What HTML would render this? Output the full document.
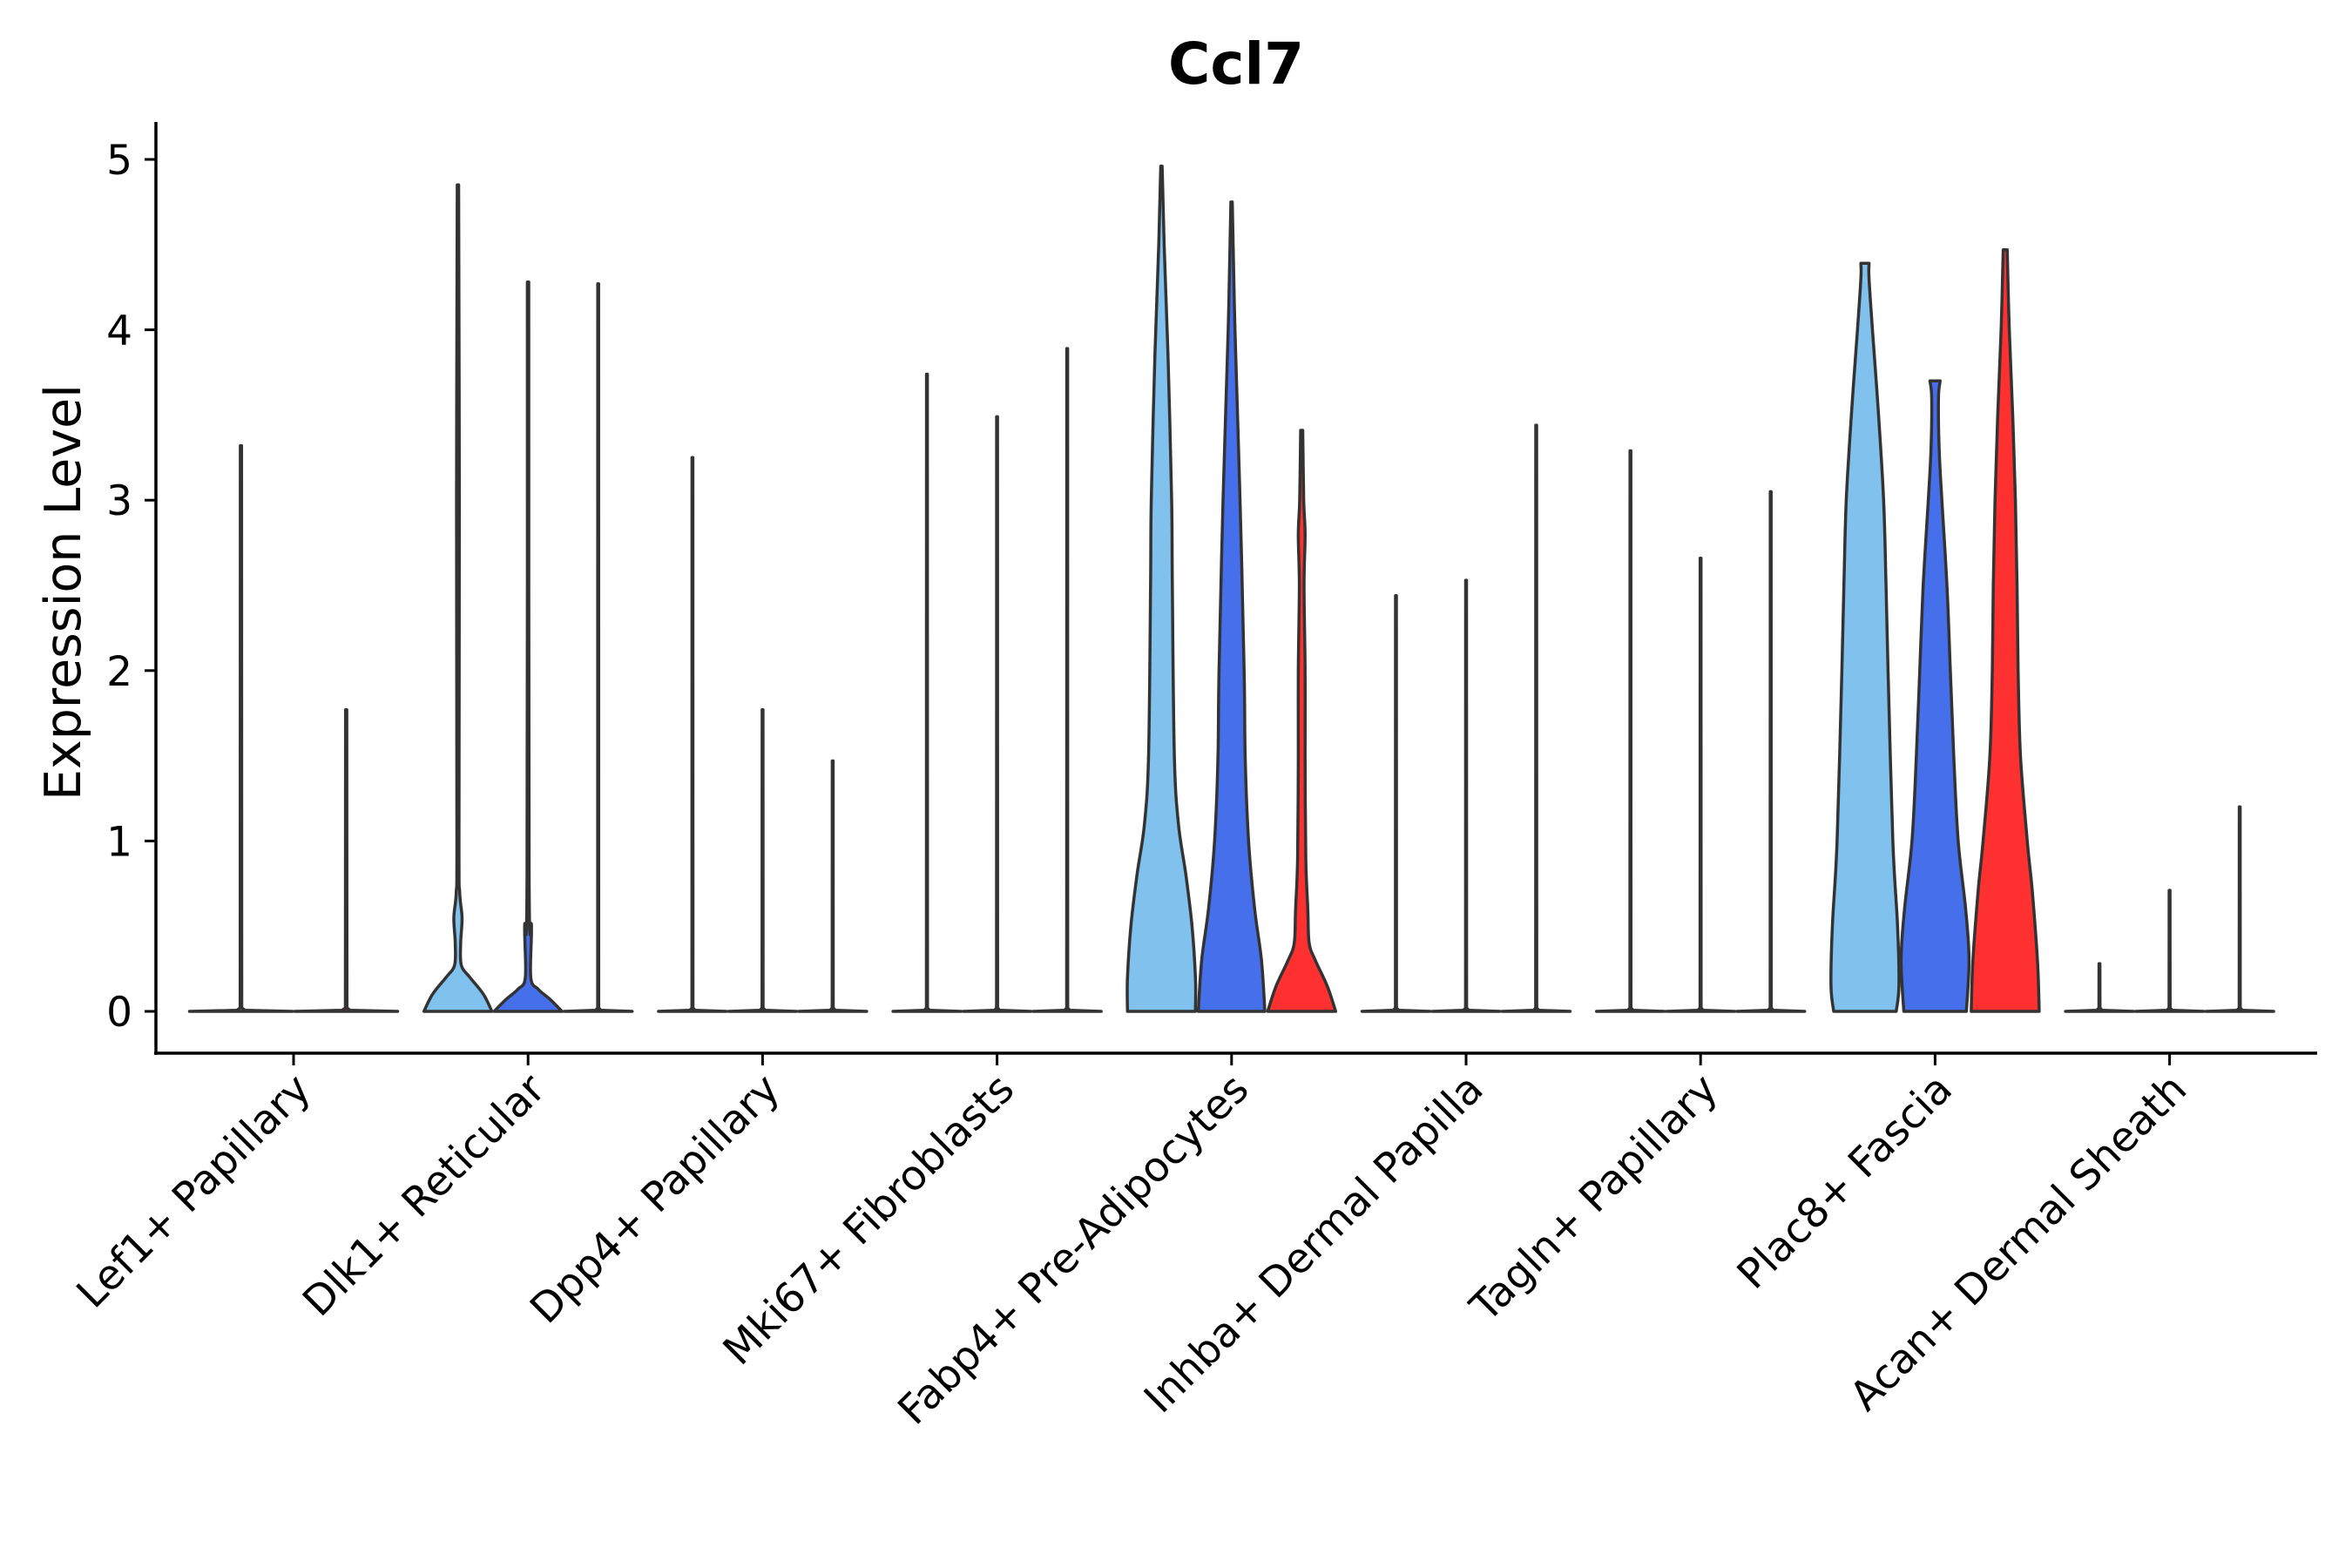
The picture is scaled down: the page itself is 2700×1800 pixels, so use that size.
<!DOCTYPE html>
<html><head><meta charset="utf-8"><style>
html,body{margin:0;padding:0;background:#fff;}
svg{display:block;font-family:"DejaVu Sans","Liberation Sans",sans-serif;}
</style></head><body>
<svg id="chart" width="2700" height="1800" viewBox="0 0 2700 1800">
<text x="1419" y="96" text-anchor="middle" font-size="66" font-weight="bold" fill="#000">Ccl7</text>
<text transform="translate(92,680) rotate(-90)" text-anchor="middle" font-size="57" fill="#000">Expression Level</text>
<g id="axes"></g>
<g id="violins"></g>
</svg>
<script>
const categories = ["Lef1+ Papillary","Dlk1+ Reticular","Dpp4+ Papillary","Mki67+ Fibroblasts","Fabp4+ Pre-Adipocytes","Inhba+ Dermal Papilla","Tagln+ Papillary","Plac8+ Fascia","Acan+ Dermal Sheath"];
const yTicks = [0,1,2,3,4,5];
const seriesColors = ["#80C1EE","#4670EB","#FF3030"];
// null = series absent in that group
const maxLight = [3.32,4.85,3.25,3.74,4.96,2.44,3.29,4.39,0.28];
const maxBlue  = [null,4.28,1.77,3.49,4.75,2.53,2.66,3.70,0.71];
const maxRed   = [1.77,4.27,1.47,3.89,3.41,3.44,3.05,4.47,1.20];
// density profiles [value, relative half-width] for filled violins
const dlkLight = [[0,1],[0.1,0.75],[0.2,0.35],[0.27,0.1],[0.4,0.08],[0.55,0.12],[0.7,0.05],[1,0.03],[3,0.04],[4.85,0.02]];
const dlkBlue  = [[0,1],[0.07,0.65],[0.13,0.3],[0.2,0.08],[0.5,0.1],[0.8,0.03],[4.28,0.02]];
const fabLight = [[0,1],[0.2,1],[0.5,0.9],[0.8,0.72],[1.1,0.5],[1.5,0.38],[2.5,0.32],[3,0.3],[3.8,0.2],[4.5,0.08],[4.96,0.02]];
const fabBlue  = [[0,0.98],[0.3,0.88],[0.6,0.68],[1,0.5],[1.5,0.4],[2,0.37],[3,0.25],[4,0.1],[4.75,0.02]];
const fabRed   = [[0,1],[0.15,0.75],[0.3,0.4],[0.4,0.22],[0.6,0.18],[0.9,0.12],[1.5,0.1],[2,0.1],[2.5,0.07],[2.8,0.1],[3,0.06],[3.41,0.03]];
const plaLight = [[0,0.92],[0.15,1],[0.5,0.96],[1,0.82],[2,0.68],[2.5,0.62],[3,0.55],[3.5,0.4],[4,0.22],[4.3,0.12],[4.39,0.12]];
const plaBlue  = [[0,0.92],[0.3,1],[0.6,0.9],[1,0.68],[1.5,0.55],[2,0.45],[2.5,0.35],[3,0.2],[3.3,0.12],[3.6,0.1],[3.7,0.15]];
const plaRed   = [[0,1],[0.3,0.95],[0.7,0.8],[1,0.65],[1.5,0.45],[2,0.38],[2.5,0.35],[3,0.3],[3.5,0.22],[4,0.12],[4.47,0.06]];

const NS="http://www.w3.org/2000/svg";
const X0=179, X1=2660, Y0=1161, UNIT=195.6, AXY=1209, C0=337, STEP=269.2, HW=39;
const yScale=v=>Y0-v*UNIT;
const xScale=i=>C0+i*STEP;
function mk(tag,attrs,parent){const e=document.createElementNS(NS,tag);for(const k in attrs)e.setAttribute(k,attrs[k]);parent.appendChild(e);return e;}
const axes=document.getElementById('axes');
const vg=document.getElementById('violins');

const yl=mk('line',{x1:X0,y1:140,x2:X0,y2:AXY+2,stroke:'#000','stroke-width':3.5},axes);


const xl=mk('line',{x1:X0-2,y1:AXY,x2:X1,y2:AXY,stroke:'#000','stroke-width':3.5},axes);


yTicks.forEach(t=>{
  const y=yScale(t);
  const tl=mk('line',{x1:X0-13,y1:y,x2:X0,y2:y,stroke:'#000','stroke-width':3},axes);
  
  
  const tx=mk('text',{x:X0-27,y:y+17,'text-anchor':'end','font-size':47,fill:'#000'},axes);
  tx.textContent=t;
  
  
});
categories.forEach((c,i)=>{
  const x=xScale(i);
  const tl=mk('line',{x1:x,y1:AXY,x2:x,y2:AXY+14,stroke:'#000','stroke-width':3},axes);
  
  
  const tx=mk('text',{transform:`translate(${x+22},${AXY+44}) rotate(-45)`,'text-anchor':'end','font-size':47,fill:'#000'},axes);
  tx.textContent=c;
  
  
});

const profiles={'1-0':dlkLight,'1-1':dlkBlue,'4-0':fabLight,'4-1':fabBlue,'4-2':fabRed,'7-0':plaLight,'7-1':plaBlue,'7-2':plaRed};
const maxes=[maxLight,maxBlue,maxRed];
function seg(pts,useSmooth){
  let d='';
  for(let i=0;i<pts.length-1;i++){
    const p1=pts[i],p2=pts[i+1];
    if(!useSmooth){d+=` L${p2[0].toFixed(1)},${p2[1].toFixed(1)}`;continue;}
    const p0=pts[Math.max(0,i-1)],p3=pts[Math.min(pts.length-1,i+2)];
    const c1=[p1[0]+(p2[0]-p0[0])/6,p1[1]+(p2[1]-p0[1])/6];
    const c2=[p2[0]-(p3[0]-p1[0])/6,p2[1]-(p3[1]-p1[1])/6];
    d+=` C${c1[0].toFixed(1)},${c1[1].toFixed(1)} ${c2[0].toFixed(1)},${c2[1].toFixed(1)} ${p2[0].toFixed(1)},${p2[1].toFixed(1)}`;
  }
  return d;
}
function pathFor(cx,prof,hw,useSmooth){
  const right=prof.map(p=>[cx+p[1]*hw,yScale(p[0])]);
  const left=prof.slice().reverse().map(p=>[cx-p[1]*hw,yScale(p[0])]);
  return `M${right[0][0].toFixed(1)},${right[0][1].toFixed(1)}`+seg(right,useSmooth)+` L${left[0][0].toFixed(1)},${left[0][1].toFixed(1)}`+seg(left,useSmooth)+' Z';
}
categories.forEach((c,i)=>{
  const present=[0,1,2].filter(s=>maxes[s][i]!==null);
  const n=present.length;
  const slot=2*HW+2.5;
  const hw=(3*slot/n-2.5)/2;
  present.forEach((s,k)=>{
    const cx=xScale(i)+(k-(n-1)/2)*(3*slot/n);
    let prof=profiles[i+'-'+s];
    const mx=maxes[s][i];
    const filled=!!prof;
    if(!prof){
      prof=mx>0?[[0,1],[0.006,0.08],[0.02,0.015],[mx,0.012]]:[[0,1],[0.008,0.01]];
    }
    const p=mk('path',{d:pathFor(cx,prof,hw,filled),fill:seriesColors[s],stroke:'#333','stroke-width':3.5,'stroke-linejoin':'round'},vg);
    
    
  });
});
</script>
</body></html>
